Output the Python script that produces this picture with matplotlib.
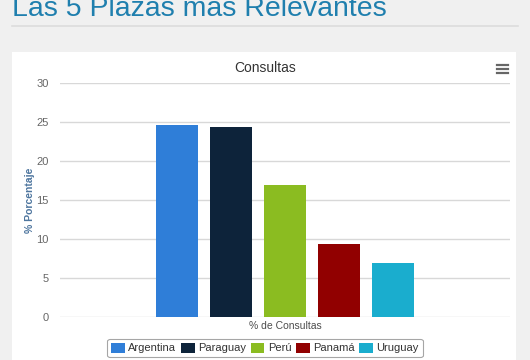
import matplotlib.pyplot as plt
from matplotlib.patches import Rectangle
from matplotlib.lines import Line2D

# datos
paises = ['Argentina', 'Paraguay', 'Perú', 'Panamá', 'Uruguay']
valores = [24.6, 24.4, 16.9, 9.4, 6.9]
colores = ['#2f7ed8', '#0d233a', '#8bbc21', '#910000', '#1aadce']
yticks = [0, 5, 10, 15, 20, 25, 30]

plt.rcParams['font.family'] = ['Liberation Sans', 'DejaVu Sans']

W, H = 530, 360
fig = plt.figure(figsize=(W / 100, H / 100), dpi=100, facecolor='#f0f0f0')

# titulo de la pagina y linea
fig.text(12 / W, 1 - 16 / H, 'Las 5 Plazas mas Relevantes', fontsize=20.5,
         color='#1f7fae', ha='left', va='baseline')
fig.add_artist(Line2D([12 / W, 518 / W], [1 - 26 / H, 1 - 26 / H],
                      color='#dcdcdc', lw=1.2, transform=fig.transFigure))

# tarjeta blanca
fig.add_artist(Rectangle((12 / W, 0), (516 - 12) / W, 1 - 52 / H,
                         facecolor='white', edgecolor='none',
                         transform=fig.transFigure, zorder=0))
fig.text(265 / W, 1 - 68 / H, 'Consultas', fontsize=10, color='#333333',
         ha='center', va='center')
# icono menu
for yy in [65, 69, 73]:
    fig.add_artist(Line2D([497 / W, 508 / W], [1 - yy / H, 1 - yy / H],
                          color='#666666', lw=1.6, transform=fig.transFigure))

ax = fig.add_axes([60 / W, (H - 316.7) / H, 450 / W, (316.7 - 83.3) / H])
ax.set_facecolor('none')

n = len(paises)
for i in range(n):
    ax.bar(i - (n - 1) / 2, valores[i], width=0.78, color=colores[i],
           label=paises[i], zorder=3)

ax.set_xlim(-4.17, 4.16)
ax.set_ylim(0, 30)
ax.set_yticks(yticks)
ax.set_xticks([])
ax.grid(axis='y', color='#d8d8d8', lw=1, zorder=0)
for s in ax.spines.values():
    s.set_visible(False)
ax.tick_params(axis='y', length=0, labelsize=8, labelcolor='#666666', pad=8)

ax.set_xlabel('% de Consultas', fontsize=7.5, color='#4d4d4d', labelpad=3)
ax.set_ylabel('% Porcentaje', fontsize=7.5, color='#4d759e',
              fontweight='bold', labelpad=1)

leg = fig.legend(loc='center', bbox_to_anchor=(265 / W, 1 - 348 / H), ncol=5,
                 fontsize=8, frameon=True, fancybox=True, handlelength=1.25,
                 handleheight=1.0, handletextpad=0.3, columnspacing=0.4,
                 borderpad=0.35, edgecolor='#909090', labelcolor='#333333')
leg.get_frame().set_linewidth(0.8)

fig.savefig('out.png', dpi=100, facecolor=fig.get_facecolor())
